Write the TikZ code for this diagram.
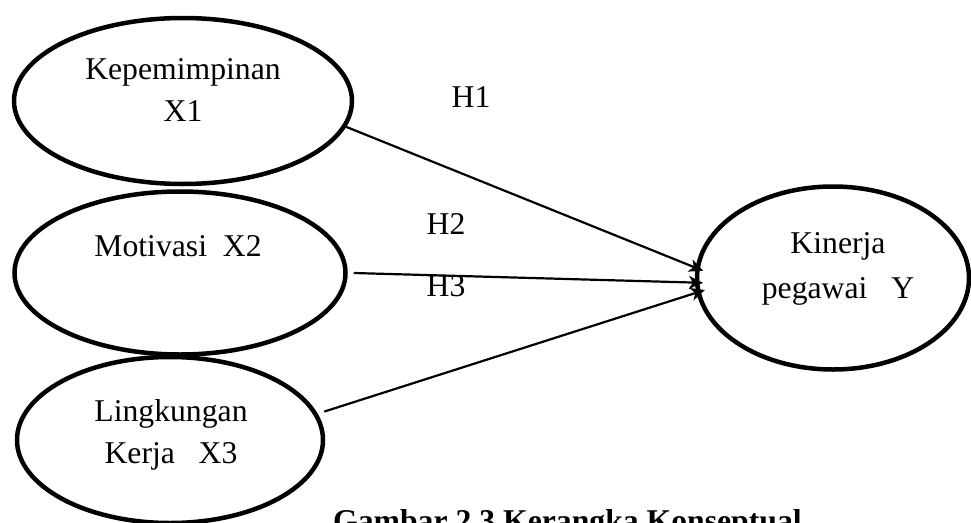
\documentclass[tikz,border=0pt]{standalone}
\usepackage{fontspec}
\setmainfont{Liberation Serif}
\usetikzlibrary{shapes.geometric,arrows.meta}
\begin{document}
\begin{tikzpicture}[x=1pt,y=-1pt,
  oval/.style={draw, line width=4.5pt, ellipse, inner sep=0pt},
  lbl/.style={font=\fontsize{31.7}{42}\selectfont, align=center, anchor=base, inner sep=0pt},
  conn/.style={line width=2.2pt, -{Stealth[length=14pt,width=13pt,inset=4pt]}}]
\useasboundingbox (0,0) rectangle (971,522);
\clip (0,0) rectangle (971,522);
% ellipses
\node[oval, minimum width=338pt, minimum height=166pt] (e1) at (183,101) {};
\node[oval, minimum width=331pt, minimum height=163pt] (e2) at (180,273) {};
\node[oval, minimum width=306pt, minimum height=166pt] (e3) at (170,440) {};
\node[oval, minimum width=272pt, minimum height=183pt] (ey) at (833,278) {};
% texts
\node[lbl] (t1) at (183,121) {Kepemimpinan\\X1};
\node[lbl] (t2) at (178,256) {Motivasi\ \ X2};
\node[lbl] (t3) at (171,463) {Lingkungan\\Kerja\ \ \ X3};
\node[lbl] (ty) at (838,298) {Kinerja\\[3pt]pegawai\ \ \ Y};
\node[lbl] (h1) at (471,107) {H1};
\node[lbl] (h2) at (446,234) {H2};
\node[lbl] (h3) at (446,296) {H3};
\node[font=\fontsize{31.7}{42}\selectfont\bfseries, anchor=base west, inner sep=0pt] (cap) at (333,531) {Gambar 2.3 Kerangka Konseptual};
% connectors
\draw[conn] (e1.-9.5) -- ([xshift=8pt]ey.177.5);
\draw[conn] ([xshift=6pt]e2.east) -- ([xshift=8pt]ey.-178);
\draw[conn] ([xshift=8pt]e3.11) -- ([xshift=9pt]ey.-175);
\end{tikzpicture}
\end{document}
